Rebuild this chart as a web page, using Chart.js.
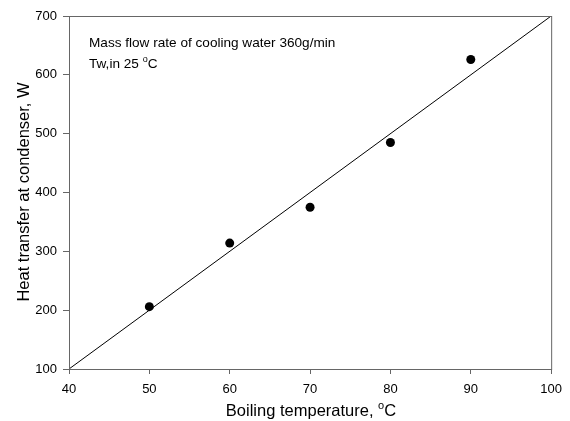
<!DOCTYPE html>
<html>
<head>
<meta charset="utf-8">
<script src="https://cdn.jsdelivr.net/npm/chart.js@4"></script>
<style>
  html, body { margin:0; padding:0; background:#fff; }
  #wrap { width:570px; height:421px; }
</style>
</head>
<body>
<div id="wrap"><canvas id="c" width="570" height="421"></canvas></div>
<script>
// dados
const temps   = [50, 60, 70, 80, 90];
const heat    = [206, 314, 375, 485, 626];
const fitX    = [40, 100];
const fitY    = [100, 700];
const xTicks  = [40, 50, 60, 70, 80, 90, 100];
const yTicks  = [100, 200, 300, 400, 500, 600, 700];

const FONT = '"Liberation Sans", Arial, sans-serif';
const FRAME = '#666';

// escreve texto com "o" sobrescrito (grau)
function drawDeg(ctx, parts, x, y, size, align) {
  ctx.font = size + 'px ' + FONT;
  const small = Math.round(size * 0.68) + 'px ' + FONT;
  const w0 = ctx.measureText(parts[0]).width;
  ctx.font = small;
  const w1 = ctx.measureText('o').width;
  ctx.font = size + 'px ' + FONT;
  const w2 = ctx.measureText(parts[1]).width;
  let sx = align === 'center' ? x - (w0 + w1 + w2) / 2 : x;
  ctx.textAlign = 'left';
  ctx.textBaseline = 'alphabetic';
  ctx.fillText(parts[0], sx, y);
  ctx.font = small;
  ctx.fillText('o', sx + w0, y - size * 0.42);
  ctx.font = size + 'px ' + FONT;
  ctx.fillText(parts[1], sx + w0 + w1, y);
}

const decor = {
  id: 'decor',
  afterDraw(chart) {
    const { ctx, chartArea: a } = chart;
    ctx.save();
    ctx.strokeStyle = FRAME;
    ctx.lineWidth = 1;
    ctx.strokeRect(a.left + 0.5, a.top + 0.5, a.right - a.left, a.bottom - a.top);
    ctx.fillStyle = '#000';
    // texto dentro do gráfico
    ctx.font = '13.6px ' + FONT;
    ctx.textAlign = 'left';
    ctx.textBaseline = 'alphabetic';
    ctx.fillText('Mass flow rate of cooling water 360g/min', 89, 47);
    drawDeg(ctx, ['Tw,in 25 ', 'C'], 89, 68, 13.6, 'left');
    // título eixo x
    drawDeg(ctx, ['Boiling temperature, ', 'C'], 311, 416, 16.5, 'center');
    // título eixo y
    ctx.translate(29, 192);
    ctx.rotate(-Math.PI / 2);
    ctx.font = '16.5px ' + FONT;
    ctx.textAlign = 'center';
    ctx.fillText('Heat transfer at condenser, W', 0, 0);
    ctx.restore();
  }
};

new Chart(document.getElementById('c'), {
  type: 'scatter',
  data: {
    datasets: [
      {
        data: fitX.map((x, i) => ({ x, y: fitY[i] })),
        showLine: true, borderColor: '#000', borderWidth: 1,
        pointRadius: 0, fill: false,
      },
      {
        data: temps.map((x, i) => ({ x, y: heat[i] })),
        backgroundColor: '#000', borderColor: '#000',
        pointRadius: 4.5, borderWidth: 0,
      },
    ],
  },
  options: {
    responsive: false,
    animation: false,
    layout: { padding: { top: 16, right: 18, left: 0, bottom: 0 } },
    plugins: { legend: { display: false }, tooltip: { enabled: false } },
    scales: {
      x: {
        type: 'linear', min: 40, max: 100,
        afterBuildTicks: s => { s.ticks = xTicks.map(v => ({ value: v })); },
        afterFit: s => { s.height = 52; },
        grid: { drawOnChartArea: false, drawTicks: true, tickLength: 5, color: FRAME },
        border: { display: false },
        ticks: { color: '#000', font: { family: FONT, size: 13 }, padding: 8, maxRotation: 0 },
      },
      y: {
        type: 'linear', min: 100, max: 700,
        afterBuildTicks: s => { s.ticks = yTicks.map(v => ({ value: v })); },
        afterFit: s => { s.width = 69; },
        grid: { drawOnChartArea: false, drawTicks: true, tickLength: 6, color: FRAME },
        border: { display: false },
        ticks: { color: '#000', font: { family: FONT, size: 13 }, padding: 6 },
      },
    },
  },
  plugins: [decor],
});
</script>
</body>
</html>
